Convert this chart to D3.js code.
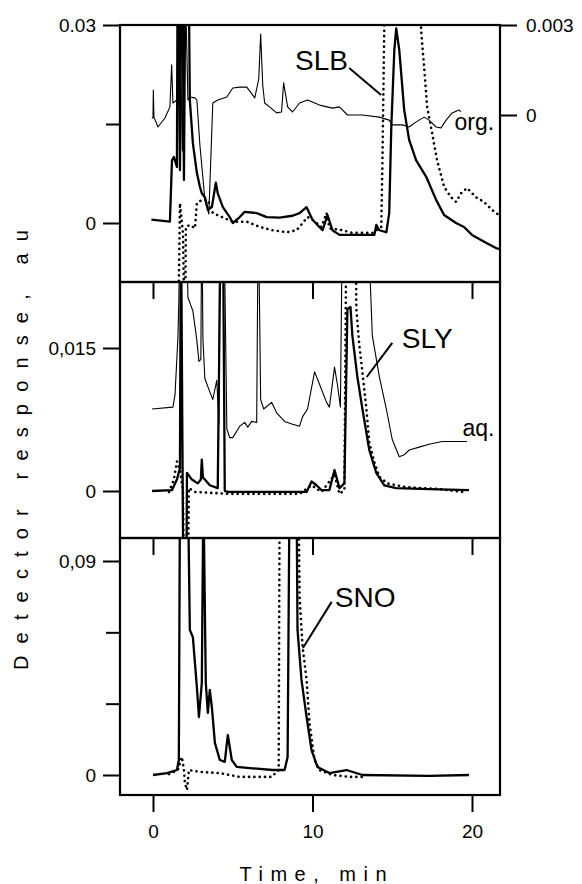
<!DOCTYPE html>
<html>
<head>
<meta charset="utf-8">
<script src="https://cdn.jsdelivr.net/npm/d3@7"></script>
<style>
  body { margin: 0; background: #fff; }
  svg { display: block; font-family: "Liberation Sans", Arial, sans-serif; }
</style>
</head>
<body>
<div id="chart"></div>
<script>
// time axis (min)
var timeTicks = [0, 10, 20];

// panel SLB: left axis (solid, dotted), right axis (org.)
var slbTickValues = [0, 0.03], slbTickLabels = ["0", "0.03"], slbMinorTicks = [0.015];
var orgTickValues = [0, 0.003], orgTickLabels = ["0", "0.003"];

var slbSolid = [[-0.1, 0.0005], [1.06, 0.0002], [1.19, 0.0095], [1.31, 0.0100], [1.5, 0.0085], [1.56, 0.05],
  [1.69, 0.008], [1.81, 0.05], [1.94, 0.0065], [2.06, 0.05], [2.19, 0.05], [2.31, 0.0186], [2.5, 0.0121],
  [2.75, 0.0076], [2.94, 0.0055], [3.06, 0.0045], [3.25, 0.0039], [3.44, 0.0020], [3.69, 0.0024],
  [3.94, 0.0061], [4.06, 0.0045], [4.38, 0.0024], [4.81, 0.0009], [5.0, 0.0], [5.44, 0.0009], [5.75, 0.0017],
  [6.5, 0.0015], [7.13, 0.0009], [7.94, 0.0008], [8.75, 0.0011], [9.19, 0.0015], [9.63, 0.0024], [10.0, 0.0005],
  [10.63, -0.0011], [10.94, 0.0012], [11.25, -0.0011], [11.69, -0.0018], [12.19, -0.0018], [13.88, -0.0018],
  [14.0, -0.0003], [14.19, -0.0011], [14.63, -0.0014], [14.81, 0.0015], [14.94, 0.0145], [15.13, 0.0262],
  [15.25, 0.0295], [15.44, 0.0262], [15.75, 0.0171], [16.06, 0.0126], [16.5, 0.0095], [17.13, 0.0070],
  [17.75, 0.0035], [18.25, 0.0012], [19.0, 0.0], [19.5, -0.0006], [20.0, -0.0018], [20.88, -0.0030],
  [21.5, -0.0038], [22.0, -0.0041]];

var slbDotted = [[1.56, -0.02], [1.69, 0.0030], [1.88, -0.0015], [2.0, -0.02], [2.06, -0.0006], [2.31, -0.0003],
  [2.63, -0.0008], [2.75, 0.0030], [3.06, 0.0035], [3.44, 0.0035], [3.75, 0.0015], [5.0, 0.0002], [5.88, 0.0002],
  [6.69, -0.0006], [7.5, -0.0011], [8.38, -0.0014], [9.0, -0.0011], [9.38, 0.0], [9.69, 0.0009], [10.0, 0.0005],
  [10.56, -0.0006], [10.88, 0.0015], [11.06, -0.0008], [11.88, -0.0011], [12.5, -0.0015], [13.75, -0.0015],
  [14.31, -0.0006], [14.38, 0.0085], [14.5, 0.0297], [14.56, 0.05], [16.75, 0.05], [16.81, 0.0292],
  [17.0, 0.0236], [17.19, 0.0176], [17.5, 0.0136], [17.81, 0.0095], [18.25, 0.0055], [18.69, 0.0039],
  [19.0, 0.0032], [19.31, 0.0045], [19.69, 0.0053], [20.25, 0.0039], [20.75, 0.0032], [21.25, 0.0020],
  [21.69, 0.0012]];

var slbOrg = [[-0.08, -0.0001], [0.0, -0.0001], [0.02, 0.00083], [0.06, -0.00007], [0.31, -0.0004],
  [0.75, -0.0001], [1.06, 0.00027], [1.17, 0.00167], [1.25, 0.0004], [1.5, 0.0005], [1.62, 0.005],
  [1.84, -0.0012], [2.0, 0.005], [2.19, 0.0005], [2.31, 0.0006], [2.63, 0.00057], [2.75, 0.0005],
  [2.94, -0.0010], [3.25, -0.0028], [3.5, -0.0033], [3.75, 0.0004], [4.06, 0.0005], [4.63, 0.0006],
  [5.0, 0.0009], [5.44, 0.00093], [5.88, 0.00093], [6.38, 0.00057], [6.63, 0.0012], [6.75, 0.0027],
  [6.88, 0.001], [7.0, 0.0004], [7.31, 0.00027], [7.75, 0.00007], [8.06, 0.0001], [8.19, 0.00107],
  [8.44, 0.00027], [8.75, 0.0001], [9.19, 0.0004], [9.69, 0.0005], [10.44, 0.00033], [11.25, 0.00023],
  [11.69, 0.00027], [12.19, 0.0], [13.13, 0.0], [14.19, -0.00007], [14.81, -0.00017], [15.0, -0.00033],
  [15.63, -0.00033], [16.06, -0.0004], [16.5, -0.00023], [17.0, -0.00007], [17.31, -0.00017], [17.75, -0.0004],
  [18.06, -0.00043], [18.38, -0.00017], [18.75, 0.00007], [19.19, 0.00017], [19.31, 0.0001]];

// panel SLY
var slyTickValues = [0, 0.015], slyTickLabels = ["0", "0,015"];

var slySolid = [[-0.06, 0.0], [1.19, 0.0001], [1.5, 0.0012], [1.69, 0.0024], [1.75, 0.03], [1.94, -0.02],
  [2.06, -0.02], [2.13, 0.0019], [2.44, 0.0012], [2.81, 0.0008], [3.0, 0.0012], [3.06, 0.0033], [3.13, 0.0014],
  [3.25, 0.0012], [3.56, 0.0006], [4.06, 0.0003], [4.25, 0.03], [4.38, 0.03], [4.5, 0.0], [4.69, -0.0001],
  [9.63, -0.0001], [9.94, 0.001], [10.25, 0.0006], [10.56, 0.0001], [11.06, 0.0001], [11.38, 0.0022],
  [11.69, 0.0003], [12.0, 0.0008], [12.19, 0.0191], [12.38, 0.0193], [12.5, 0.0163], [12.81, 0.012],
  [13.13, 0.0086], [13.56, 0.0043], [14.0, 0.0019], [14.5, 0.0006], [15.25, 0.0003], [17.31, 0.0002],
  [19.81, 0.0001]];

var slyDotted = [[1.0, -0.0001], [1.31, 0.0012], [1.5, 0.0031], [1.69, 0.0022], [1.88, 0.0001], [2.0, -0.02],
  [2.13, -0.02], [2.25, 0.0003], [2.63, -0.0001], [4.81, -0.0003], [6.69, -0.0003], [9.19, -0.0003],
  [9.94, 0.0006], [10.56, -0.0001], [11.38, 0.0017], [11.69, -0.0003], [12.0, 0.0001], [12.13, 0.03],
  [12.69, 0.03], [12.75, 0.0191], [12.94, 0.0152], [13.13, 0.0125], [13.38, 0.0086], [13.56, 0.0051],
  [13.88, 0.003], [14.19, 0.0015], [14.69, 0.0008], [15.88, 0.0004], [17.94, 0.0002], [19.38, -0.0001]];

var slyAq = [[-0.06, 0.0086], [1.25, 0.0088], [1.38, 0.0101], [1.56, 0.0160], [1.62, 0.0199], [1.69, 0.03],
  [2.06, 0.03], [2.19, 0.0203], [2.5, 0.0189], [2.75, 0.0158], [2.88, 0.0136], [3.0, 0.0138], [3.06, 0.03],
  [3.13, 0.0160], [3.25, 0.0118], [3.56, 0.0104], [3.75, 0.0096], [4.0, 0.0116], [4.13, 0.0070], [4.19, 0.03],
  [4.44, 0.03], [4.63, 0.0065], [4.81, 0.0056], [5.0, 0.0056], [5.44, 0.0068], [5.75, 0.0072], [5.94, 0.0067],
  [6.19, 0.0073], [6.5, 0.0072], [6.6, 0.03], [6.75, 0.0096], [6.94, 0.0086], [7.44, 0.0093], [7.75, 0.0082],
  [8.25, 0.0073], [8.75, 0.0070], [9.19, 0.0068], [9.38, 0.0078], [9.69, 0.0086], [10.13, 0.0125],
  [10.44, 0.0112], [10.88, 0.0093], [11.06, 0.0088], [11.38, 0.0130], [11.56, 0.0112], [11.75, 0.0088],
  [11.88, 0.03], [13.44, 0.03], [13.75, 0.0163], [14.19, 0.0120], [14.63, 0.0086], [15.0, 0.0054],
  [15.44, 0.0036], [15.75, 0.0038], [16.06, 0.0043], [16.69, 0.0046], [17.31, 0.0049], [18.13, 0.0052],
  [19.0, 0.0052], [19.69, 0.0052]];

// panel SNO
var snoTickValues = [0, 0.09], snoTickLabels = ["0", "0,09"], snoMinorTicks = [0.03, 0.06];

var snoSolid = [[0.0, 0.0], [0.88, 0.0008], [1.5, 0.0021], [1.62, 0.0063], [1.69, 0.12], [2.19, 0.12],
  [2.31, 0.061], [2.5, 0.058], [2.75, 0.037], [2.88, 0.0244], [3.06, 0.0387], [3.16, 0.12], [3.31, 0.0387],
  [3.44, 0.0261], [3.56, 0.0358], [3.69, 0.0286], [3.88, 0.0135], [4.19, 0.0063], [4.5, 0.0055],
  [4.69, 0.0168], [4.94, 0.0063], [5.25, 0.0034], [6.06, 0.0029], [7.5, 0.0021], [8.25, 0.0021],
  [8.44, 0.0076], [8.56, 0.12], [9.0, 0.12], [9.06, 0.061], [9.31, 0.040], [9.63, 0.0244], [9.94, 0.0105],
  [10.31, 0.0034], [11.06, 0.0008], [12.13, 0.0021], [13.13, 0.0], [17.31, -0.0004], [19.81, 0.0]];

var snoDotted = [[1.0, 0.0004], [1.56, 0.0021], [1.81, 0.0076], [1.94, 0.0021], [2.0, -0.0034], [2.13, -0.0063],
  [2.25, 0.0021], [2.94, 0.0013], [4.19, 0.0008], [5.44, -0.0008], [7.44, -0.0008], [7.88, 0.0021],
  [7.94, 0.12], [9.13, 0.12], [9.19, 0.0749], [9.38, 0.0538], [9.63, 0.040], [9.81, 0.0219], [10.13, 0.0063],
  [10.44, 0.0021], [11.25, 0.0], [12.31, -0.0008], [13.38, -0.0008]];

var width = 582, height = 884,
    left = 120, right = 500;

var svg = d3.select("#chart").append("svg")
    .attr("width", width)
    .attr("height", height);

svg.append("rect").attr("width", width).attr("height", height).attr("fill", "#fff");

var x = d3.scaleLinear().domain([0, 20]).range([153, 472]);

var panels = [
  { name: "slb", top: 25, bottom: 282, y: d3.scaleLinear().domain([0, 0.03]).range([223, 25]),
    ticks: slbTickValues, labels: slbTickLabels, minor: slbMinorTicks },
  { name: "sly", top: 282, bottom: 538, y: d3.scaleLinear().domain([0, 0.015]).range([491, 348]),
    ticks: slyTickValues, labels: slyTickLabels, minor: [] },
  { name: "sno", top: 538, bottom: 795, y: d3.scaleLinear().domain([0, 0.09]).range([775, 561]),
    ticks: snoTickValues, labels: snoTickLabels, minor: snoMinorTicks }
];
var yOrg = d3.scaleLinear().domain([0, 0.003]).range([115, 25]);

function styleAxis (g, fontSize) {
  g.select(".domain").remove();
  g.selectAll(".tick line").attr("stroke", "#000").attr("stroke-width", 2);
  g.selectAll("text").attr("fill", "#000")
    .style("font-family", '"Liberation Sans", Arial, sans-serif')
    .style("font-size", fontSize + "px");
}

function trace (g, data, yScale, kind) {
  var line = d3.line()
    .x(function(d) { return x(d[0]); })
    .y(function(d) { return yScale(d[1]); });
  var p = g.append("path")
    .datum(data)
    .attr("d", line)
    .attr("fill", "none")
    .attr("stroke", "#000")
    .attr("stroke-linejoin", "round");
  if (kind === "thick") p.attr("stroke-width", 2.3);
  else if (kind === "thin") p.attr("stroke-width", 1.1);
  else p.attr("stroke-width", 2.6).attr("stroke-dasharray", "0.1,5.2").attr("stroke-linecap", "round");
}

var defs = svg.append("defs");

panels.forEach(function (p) {
  defs.append("clipPath").attr("id", "clip-" + p.name)
    .append("rect")
    .attr("x", left).attr("y", p.top)
    .attr("width", right - left).attr("height", p.bottom - p.top);

  // left axis
  var labelMap = {};
  p.ticks.forEach(function (v, i) { labelMap[v] = p.labels[i]; });
  svg.append("g")
    .attr("transform", "translate(" + left + ",0)")
    .call(d3.axisLeft(p.y).tickValues(p.ticks).tickSize(17).tickPadding(7)
      .tickFormat(function(d) { return labelMap[d]; }))
    .call(styleAxis, 19);
  if (p.minor.length) {
    svg.append("g")
      .attr("transform", "translate(" + left + ",0)")
      .call(d3.axisLeft(p.y).tickValues(p.minor).tickSize(14).tickFormat(""))
      .call(styleAxis, 19);
  }

  // inner time ticks on top edge of the lower panels
  if (p.name !== "slb") {
    svg.append("g")
      .attr("transform", "translate(0," + p.top + ")")
      .call(d3.axisBottom(x).tickValues(timeTicks).tickSize(17).tickFormat(""))
      .call(styleAxis, 19);
  }
});

// right axis for the org. trace
var orgMap = {};
orgTickValues.forEach(function (v, i) { orgMap[v] = orgTickLabels[i]; });
svg.append("g")
  .attr("transform", "translate(" + right + ",0)")
  .call(d3.axisRight(yOrg).tickValues(orgTickValues).tickSize(17).tickPadding(9)
    .tickFormat(function(d) { return orgMap[d]; }))
  .call(styleAxis, 19);

// bottom time axis
svg.append("g")
  .attr("transform", "translate(0,795)")
  .call(d3.axisBottom(x).tickValues(timeTicks).tickSize(17).tickPadding(13))
  .call(styleAxis, 19);

// traces
var gSlb = svg.append("g").attr("clip-path", "url(#clip-slb)");
trace(gSlb, slbOrg, yOrg, "thin");
trace(gSlb, slbDotted, panels[0].y, "dotted");
trace(gSlb, slbSolid, panels[0].y, "thick");

var gSly = svg.append("g").attr("clip-path", "url(#clip-sly)");
trace(gSly, slyAq, panels[1].y, "thin");
trace(gSly, slyDotted, panels[1].y, "dotted");
trace(gSly, slySolid, panels[1].y, "thick");

var gSno = svg.append("g").attr("clip-path", "url(#clip-sno)");
trace(gSno, snoDotted, panels[2].y, "dotted");
trace(gSno, snoSolid, panels[2].y, "thick");

// frames
panels.forEach(function (p) {
  svg.append("rect")
    .attr("x", left).attr("y", p.top)
    .attr("width", right - left).attr("height", p.bottom - p.top)
    .attr("fill", "none").attr("stroke", "#000").attr("stroke-width", 2.2);
});

// annotations
function note (txt, t, yv, size) {
  svg.append("text")
    .attr("x", x(t)).attr("y", yv)
    .style("font-size", size + "px")
    .text(txt);
}
function leader (t1, y1, t2, y2) {
  svg.append("line")
    .attr("x1", x(t1)).attr("y1", y1)
    .attr("x2", x(t2)).attr("y2", y2)
    .attr("stroke", "#000").attr("stroke-width", 2);
}

note("SLB", 8.9, panels[0].y(0.0232), 28);
leader(12.3, panels[0].y(0.0235), 14.3, panels[0].y(0.0194));
note("org.", 18.9, yOrg(-0.0005), 23);

note("SLY", 15.6, panels[1].y(0.015), 28);
leader(15.0, panels[1].y(0.01553), 13.4, panels[1].y(0.01196));
note("aq.", 19.4, panels[1].y(0.00577), 23);

note("SNO", 11.4, panels[2].y(0.0707), 28);
leader(11.2, panels[2].y(0.0728), 9.4, panels[2].y(0.0534));

// axis titles
svg.append("text")
  .attr("transform", "translate(28,450) rotate(-90)")
  .attr("text-anchor", "middle")
  .attr("textLength", 440)
  .attr("lengthAdjust", "spacing")
  .style("font-size", "20px")
  .text("Detector response, au");

svg.append("text")
  .attr("x", 313).attr("y", 881)
  .attr("text-anchor", "middle")
  .attr("textLength", 147)
  .attr("lengthAdjust", "spacing")
  .style("font-size", "20px")
  .text("Time, min");
</script>
</body>
</html>
